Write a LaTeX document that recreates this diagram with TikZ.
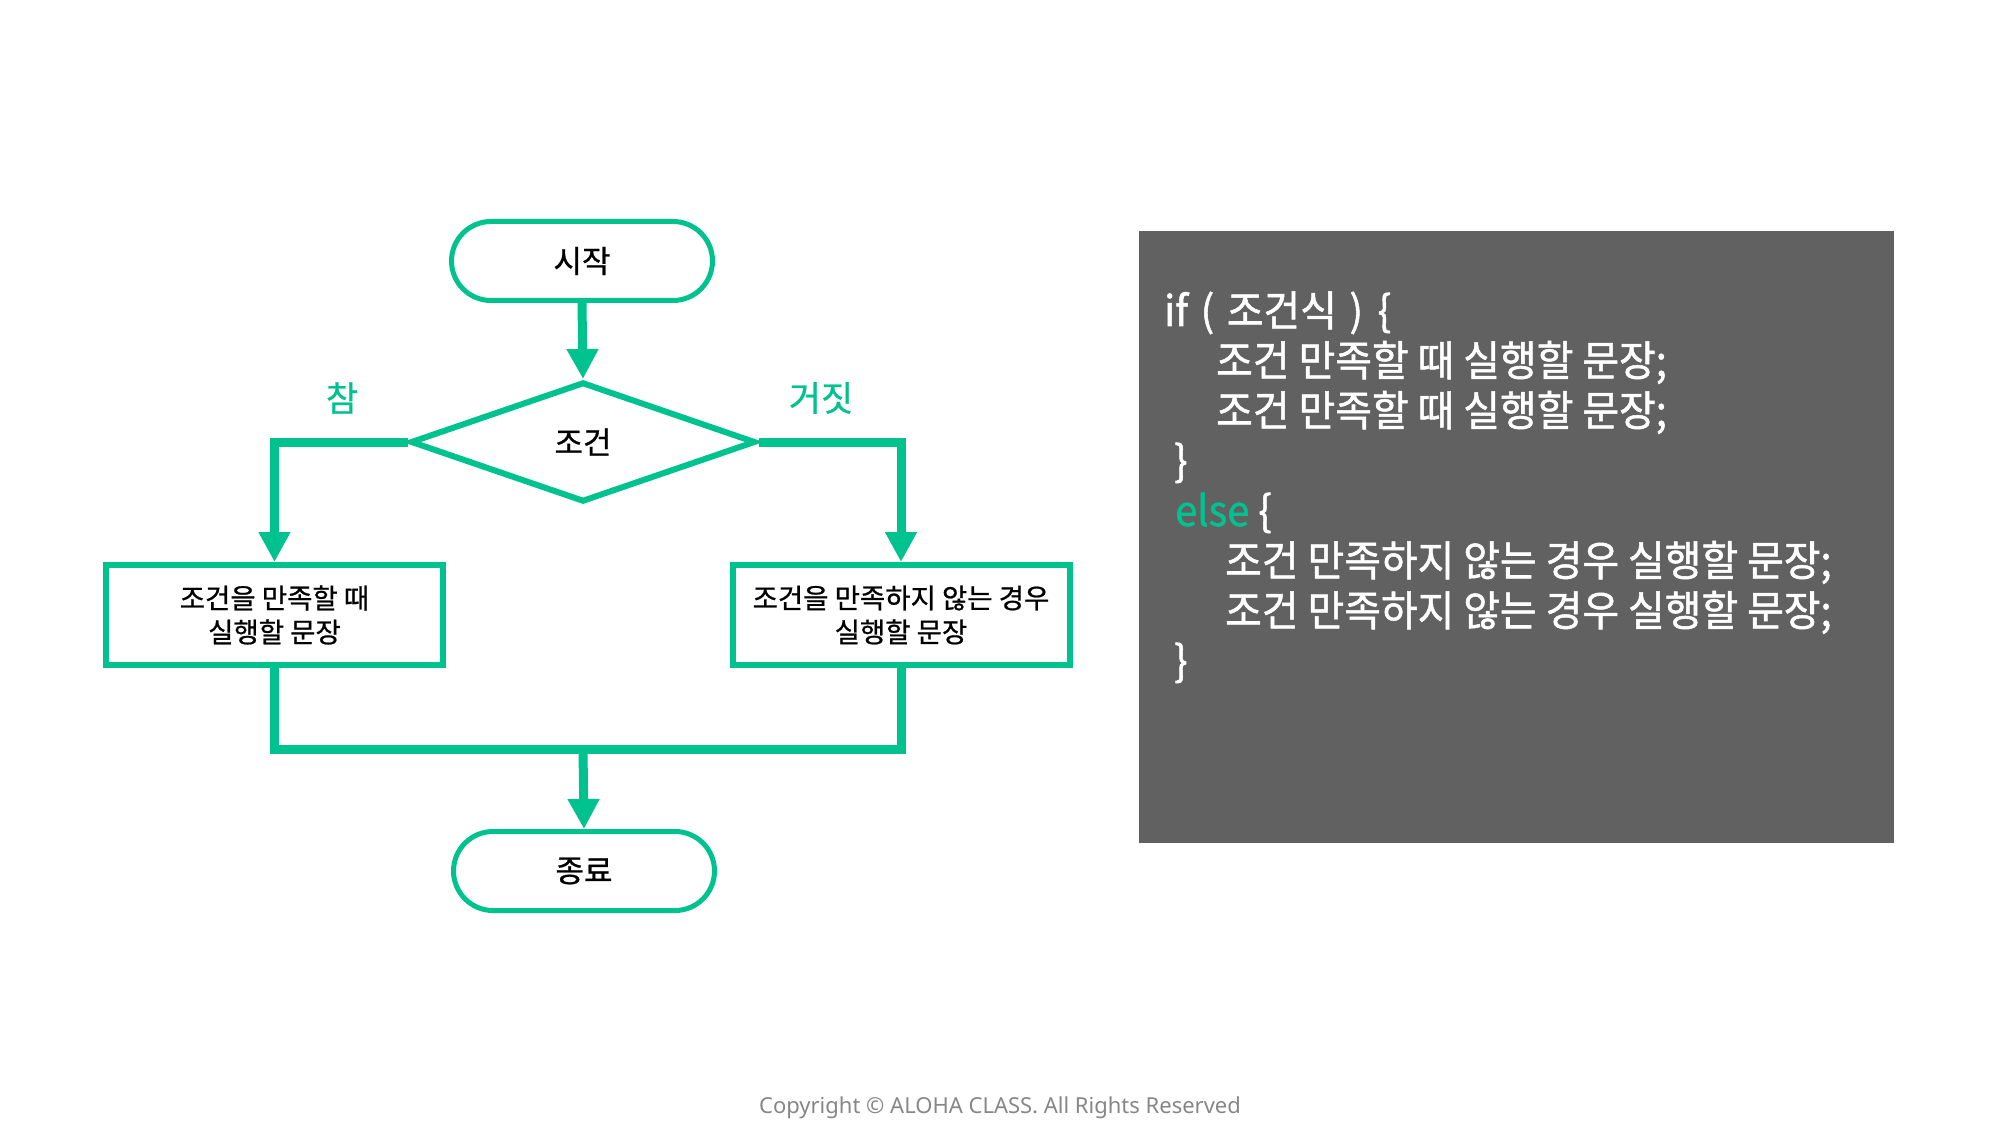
\documentclass[tikz,border=0pt]{standalone}
\usepackage{fontspec}
\setmainfont{Noto Sans CJK KR}
\newfontfamily\krfont[FakeBold=0.8]{Noto Sans CJK KR}
\newfontfamily\codefont[FakeStretch=0.95,FakeBold=1.2]{Noto Sans CJK KR}
\newfontfamily\copyfont{Noto Sans}
\usetikzlibrary{shapes.geometric,arrows.meta}
\definecolor{fcgreen}{RGB}{0,194,142}
\definecolor{codebg}{RGB}{98,97,98}
\definecolor{copygray}{RGB}{135,135,135}
\tikzset{
  flowline/.style={draw=fcgreen, line width=9pt},
  arrowline/.style={flowline, -{Triangle[width=30pt,length=30pt]}},
  terminal/.style={draw=fcgreen, line width=5pt, fill=white, rounded corners=39.5pt,
    minimum width=261pt, minimum height=79pt, inner sep=0pt,
    font=\krfont\fontsize{31}{36}\selectfont},
  decision/.style={diamond, draw=fcgreen, line width=6pt, fill=white,
    minimum width=345pt, minimum height=120pt, inner sep=0pt,
    font=\krfont\fontsize{31}{36}\selectfont},
  process/.style={draw=fcgreen, line width=6pt, fill=white,
    minimum width=337pt, minimum height=100pt, inner sep=0pt, align=center,
    font=\krfont\fontsize{27.5}{34}\selectfont},
  branchlabel/.style={text=fcgreen, inner sep=0pt, font=\krfont\fontsize{35}{40}\selectfont},
  codeline/.style={text=white, inner sep=0pt, anchor=base west, font=\codefont\fontsize{42}{50}\selectfont},
}
\begin{document}
\begin{tikzpicture}[x=1pt,y=-1pt]
\fill[white] (0,0) rectangle (2000,1131);
\useasboundingbox (0,0) rectangle (2000,1131);

% flowchart
\node[terminal] (start) at (582,261) {시작};
\node[decision] (cond) at (583,442) {조건};
\node[process] (lbox) at (274.5,615) {조건을 만족할 때\\실행할 문장};
\node[process] (rbox) at (901,615) {조건을 만족하지 않는 경우\\실행할 문장};
\node[terminal] (end) at (584,871) {종료};
\coordinate (merge) at (583,749);

\node[branchlabel] (tlabel) at (342,398) {참};
\node[branchlabel] (flabel) at (821,398) {거짓};

\draw[arrowline] (start.south) -- (cond.north);
\draw[arrowline] (cond.west) -| (lbox.north);
\draw[arrowline] (cond.east) -| (rbox.north);
\draw[flowline] (lbox.south) |- (merge) -| (rbox.south);
\draw[arrowline] (merge) -- (end.north);

% code panel
\fill[codebg] (1139,231) rectangle (1894,843);
\node[codeline] (c1) at (1164,326) {if\hspace{0.3em}(\hspace{0.3em}조건식\hspace{0.3em})\hspace{0.35em}\{};
\node[codeline] (c2) at (1216,376) {조건 만족할 때 실행할 문장;};
\node[codeline] (c3) at (1216,426) {조건 만족할 때 실행할 문장;};
\node[codeline] (c4) at (1174,476) {\}};
\node[codeline] (c5) at (1175,526) {{\color{fcgreen}else} \{};
\node[codeline] (c6) at (1225,576) {조건 만족하지 않는 경우 실행할 문장;};
\node[codeline] (c7) at (1225,626) {조건 만족하지 않는 경우 실행할 문장;};
\node[codeline] (c8) at (1174,676) {\}};

% footer
\node[text=copygray, inner sep=0pt, font=\copyfont\fontsize{22}{26}\selectfont] (copy) at (1000,1107.5) {Copyright © ALOHA CLASS. All Rights Reserved};
\end{tikzpicture}
\end{document}
